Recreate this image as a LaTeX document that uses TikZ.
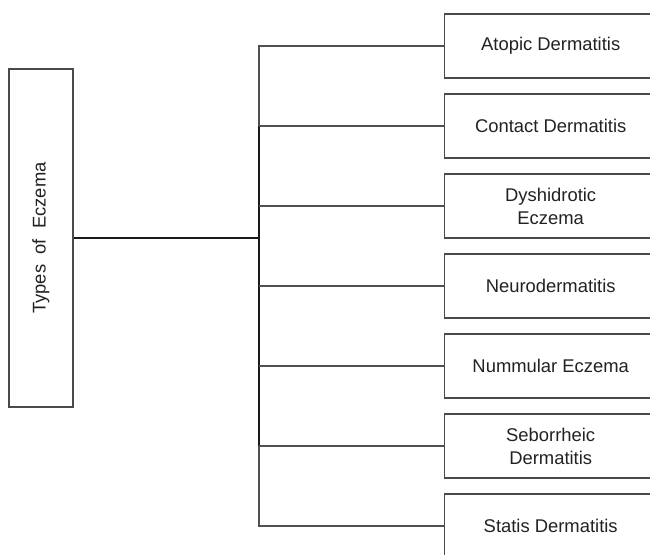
\documentclass[tikz,border=0pt]{standalone}
\usepackage{fontspec}
\setmainfont{Liberation Sans}
\definecolor{boxline}{HTML}{4A4A4A}
\definecolor{thinline}{HTML}{505050}
\definecolor{txt}{HTML}{222222}
\tikzset{
  leaf/.style={draw=boxline, line width=1.4pt, rectangle, minimum width=212pt, minimum height=64pt,
    inner sep=0pt, anchor=west, align=center, text=txt,
    font=\fontsize{18.4}{23}\selectfont},
  rootbox/.style={draw=boxline, line width=1.4pt, rectangle, minimum width=64pt, minimum height=338pt,
    inner sep=0pt, text=txt, font=\fontsize{18.4}{23}\selectfont},
  thin/.style={draw=thinline, line width=1.3pt},
  thick/.style={draw=black!90, line width=1.9pt},
}
\begin{document}
\begin{tikzpicture}[x=1pt, y=-1pt]
\useasboundingbox (0,0) rectangle (650,554);
\clip (0,0) rectangle (650,554);
\fill[white] (0,0) rectangle (650,554);
\node[rootbox] (root) at (41,238) {\rotatebox{90}{Types\ \ of\ \ Eczema}};
\node[leaf] (b1) at (444,46)  {Atopic Dermatitis};
\node[leaf] (b2) at (444,126) {Contact Dermatitis};
\node[leaf] (b3) at (444,206) {Dyshidrotic\\Eczema};
\node[leaf] (b4) at (444,286) {Neurodermatitis};
\node[leaf] (b5) at (444,366) {Nummular Eczema};
\node[leaf] (b6) at (444,446) {Seborrheic\\Dermatitis};
\node[leaf] (b7) at (444,526) {Statis Dermatitis};
\coordinate (j1) at (259,46);
\coordinate (j2) at (259,126);
\coordinate (j3) at (259,206);
\coordinate (j4) at (259,286);
\coordinate (j5) at (259,366);
\coordinate (j6) at (259,446);
\coordinate (j7) at (259,526);
\coordinate (jr) at (259,238);
\draw[thin, line cap=rect] (j1) -- (j2);
\draw[thin, line cap=rect] (j6) -- (j7);
\draw[thick] (j2) -- (j6);
\draw[thick] (root.east) -- (jr);
\foreach \i in {1,...,7} {
  \draw[thin] (j\i) -- (b\i.west);
}
\end{tikzpicture}
\end{document}
